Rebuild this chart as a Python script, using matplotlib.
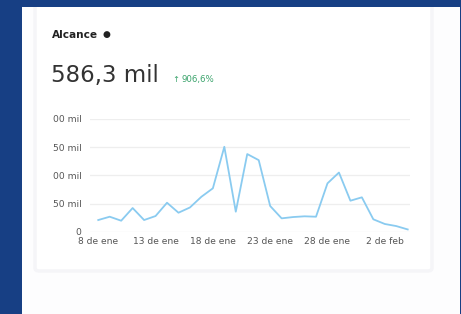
import matplotlib.pyplot as plt
from matplotlib.patches import Rectangle, FancyBboxPatch

# daily reach, 8 Jan .. 4 Feb (thousands)
days = list(range(28))
reach = [20.7, 26.6, 19.5, 42, 20.7, 27.8, 51.4, 33.7, 43, 62, 77, 150.7,
         35.5, 137.8, 127, 45.6, 23.7, 26, 27.3, 26.6, 85.8, 105, 55, 61,
         22, 13.7, 10, 4]
xtick_pos = [0, 5, 10, 15, 20, 25]
xtick_labels = ["8 de ene", "13 de ene", "18 de ene", "23 de ene", "28 de ene", "2 de feb"]
ytick_pos = [0, 50, 100, 150, 200]
ytick_labels = ["0", "50 mil", "00 mil", "50 mil", "00 mil"]

W, H = 461, 314
fig = plt.figure(figsize=(W / 100, H / 100), dpi=100)
fig.patch.set_facecolor("#173f84")

# white page area and card shadow
fig.patches.append(Rectangle((22 / W, 0), (460 - 22) / W, (H - 7) / H,
                             transform=fig.transFigure, facecolor="#fdfdfe",
                             edgecolor="none", zorder=0))
fig.patches.append(FancyBboxPatch((35 / W, (H - 271) / H), (432 - 35) / W, (271) / H,
                                  boxstyle="round,pad=0,rounding_size=0.01",
                                  transform=fig.transFigure, facecolor="white",
                                  edgecolor="#f5f5f8", linewidth=2.5, zorder=0.5))
fig.patches.append(Rectangle((22 / W, (H - 7) / H), (460 - 22) / W, 7 / H,
                             transform=fig.transFigure, facecolor="#173f84",
                             edgecolor="none", zorder=0.8))

fig.text(52 / W, 1 - 35 / H, "Alcance", fontsize=7.6, fontweight="bold",
         color="#222222", va="center")
fig.text(102 / W, 1 - 35 / H, "●", fontsize=6.5, color="#222222", va="center")
fig.text(51 / W, 1 - 82 / H, "586,3 mil", fontsize=16.5, color="#333333", va="baseline")
fig.text(172 / W, 1 - 82 / H, "↑", fontsize=6, color="#3aa36b", va="baseline")
fig.text(182 / W, 1 - 82 / H, "906,6%", fontsize=6.2, color="#3aa36b", va="baseline")

ax = fig.add_axes([90 / W, (H - 231.7) / H, 320 / W, (231.7 - 119) / H])
ax.set_zorder(2)
ax.set_facecolor("none")
ax.plot(days, reach, color="#8acbf0", linewidth=1.3, zorder=3)
ax.set_xlim(-0.72, 27.2)
ax.set_ylim(0, 200)
ax.set_yticks(ytick_pos)
ax.set_yticklabels(ytick_labels)
ax.set_xticks(xtick_pos)
ax.set_xticklabels(xtick_labels)
ax.grid(axis="y", color="#eeeeee", linewidth=0.9)
ax.tick_params(length=0, labelsize=6.6, labelcolor="#555555")
ax.tick_params(axis="y", pad=6)
ax.tick_params(axis="x", pad=4)
for s in ax.spines.values():
    s.set_visible(False)

fig.savefig("out.png", dpi=100, facecolor=fig.get_facecolor())
